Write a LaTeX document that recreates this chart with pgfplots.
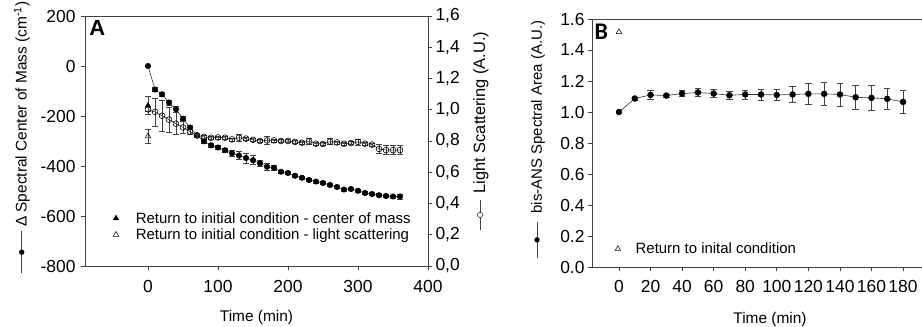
\documentclass[border=0pt]{standalone}
\usepackage{fontspec}
\setmainfont{Liberation Sans}
\newfontfamily\carlito{Carlito}
\usepackage{pgfplots}
\pgfplotsset{compat=1.18}
\usepackage{pgfplotstable}

\pgfplotstableread{
x y e
0 0 0
10 -94 8
20 -113 8
30 -146 10
40 -173 12
50 -211 8
60 -246 8
70 -278 6
80 -301 8
90 -317 8
100 -326 8
110 -337 8
120 -349 12
130 -358 15
140 -368 20
150 -377 18
160 -389 12
170 -403 15
180 -407 10
190 -423 6
200 -428 6
210 -439 6
220 -447 6
230 -456 6
240 -462 6
250 -468 6
260 -476 6
270 -484 6
280 -494 6
290 -492 6
300 -499 6
310 -508 6
320 -512 6
330 -517 6
340 -520 6
350 -522 6
360 -522 10
}\com

\pgfplotstableread{
x y e
0 1.003 0.01
10 0.986 0.09
20 0.962 0.10
30 0.937 0.08
40 0.911 0.07
50 0.887 0.04
60 0.860 0.015
70 0.836 0.01
80 0.826 0.01
90 0.821 0.01
100 0.823 0.01
110 0.821 0.01
120 0.810 0.01
130 0.821 0.02
140 0.815 0.01
150 0.808 0.01
160 0.800 0.01
170 0.804 0.025
180 0.804 0.01
190 0.800 0.01
200 0.800 0.01
210 0.794 0.01
220 0.789 0.01
230 0.798 0.02
240 0.783 0.01
250 0.781 0.01
260 0.796 0.02
270 0.791 0.01
280 0.783 0.01
290 0.787 0.01
300 0.794 0.02
310 0.783 0.01
320 0.777 0.01
330 0.749 0.03
340 0.742 0.03
350 0.742 0.03
360 0.742 0.03
}\ls

\pgfplotstableread{
x y e
0 1.000 0
10 1.087 0.01
20 1.110 0.03
30 1.106 0.01
40 1.119 0.02
50 1.126 0.025
60 1.119 0.025
70 1.108 0.025
80 1.113 0.03
90 1.113 0.035
100 1.110 0.035
110 1.113 0.05
120 1.117 0.07
130 1.117 0.075
140 1.113 0.075
150 1.095 0.08
160 1.091 0.08
170 1.085 0.07
180 1.065 0.075
}\ans

\begin{document}
\begin{tikzpicture}
\path[use as bounding box] (0,0) rectangle (922bp,327bp);
\pgfplotsset{
  every axis/.append style={
    scale only axis,
    font=\fontsize{15.5}{18}\selectfont,
    tick label style={font=\fontsize{17.5}{19}\selectfont},
    /pgf/number format/assume math mode=true,
    tick align=outside,
    major tick length=4bp,
    axis line style={black!75, line width=0.8bp},
    every tick/.style={black!75, line width=0.8bp},
    clip=false,
  },
  eb/.style={error bars/.cd, y dir=both, y explicit,
    error bar style={line width=0.6bp, black!75},
    error mark options={rotate=90, mark size=3.2bp, line width=0.6bp, black!75}},
}
% Panel A, left axis
\begin{axis}[
  at={(85bp,61bp)}, anchor=south west, width=343bp, height=250bp,
  xmin=-90, xmax=400, ymin=-800, ymax=200,
  xtick={0,100,...,400}, ytick={-800,-600,...,200},
  xtick pos=bottom, ytick pos=left,
  xticklabel style={yshift=-7bp},
  yticklabel style={xshift=-2bp},
  xlabel={Time (min)},
  xlabel style={font=\fontsize{15.5}{18}\selectfont, at={(axis description cs:0.5,0)}, anchor=center, yshift=-52bp},
  ylabel={\tikz[baseline=-0.6ex]{\draw[black!75,line width=0.7bp] (0,0)--(42bp,0); \fill (21bp,0) circle (2.7bp);}\hspace{4bp}Δ Spectral Center of Mass (cm\textsuperscript{-1})},
  ylabel style={at={(axis description cs:-0.184,0.514)}, anchor=center},
  legend style={draw=none, fill=none, font=\fontsize{15}{17}\selectfont,
    at={(axis description cs:0.073,0.158)}, anchor=west, row sep=0bp,
    /tikz/every odd column/.append style={column sep=15bp}},
  legend cell align=left,
]
\addplot[black!80, line width=0.6bp, mark=*, mark size=2.7bp, mark options={fill=black, draw=black}, forget plot, eb]
  table[x=x, y=y, y error=e] {\com};
\addplot[only marks, mark=triangle*, mark size=3.2bp, mark options={fill=black, draw=black}, eb]
  coordinates {(0,-158) +- (0,35)};
\addlegendentry{Return to initial condition - center of mass}
\addlegendimage{only marks, mark=triangle, mark size=3.2bp, mark options={draw=black, fill=white, line width=0.5bp}}
\addlegendentry{Return to initial condition - light scattering}
\node[anchor=north west, font=\fontsize{22}{24}\selectfont\bfseries, inner sep=0pt] at (axis description cs:0.012,0.985) {A};
\end{axis}
% Panel A, right axis
\begin{axis}[
  at={(85bp,61bp)}, anchor=south west, width=343bp, height=250bp,
  xmin=-90, xmax=400, ymin=0, ymax=1.6,
  axis x line=none, axis y line*=right,
  ytick={0,0.2,...,1.6},
  yticklabel style={/pgf/number format/.cd, use comma, fixed, fixed zerofill, precision=1},
  ylabel={\tikz[baseline=-0.6ex]{\draw[black!75,line width=0.7bp] (0,0)--(30bp,0); \filldraw[fill=white, draw=black!80, line width=0.6bp] (15bp,0) circle (2.7bp);}\hspace{6bp}Light Scattering (A.U.)},
  ylabel style={font=\fontsize{16.5}{19}\selectfont, at={(axis description cs:1.1545,0.54)}, anchor=center},
]
\addplot[black!80, line width=0.6bp, mark=o, mark size=2.9bp, mark options={fill=white, draw=black, line width=0.6bp}, eb]
  table[x=x, y=y, y error=e] {\ls};
\addplot[only marks, mark=triangle, mark size=3.2bp, mark options={fill=white, draw=black, line width=0.5bp}, eb]
  coordinates {(0,0.83) +- (0,0.045)};
\end{axis}
% Panel B
\begin{axis}[
  at={(592bp,60bp)}, anchor=south west, width=356bp, height=248bp,
  xmin=-17.1, xmax=208.5, ymin=0, ymax=1.6,
  xtick={0,20,...,180}, ytick={0,0.2,...,1.6},
  xtick pos=bottom, ytick pos=left,
  yticklabel style={/pgf/number format/.cd, fixed, fixed zerofill, precision=1},
  xticklabel style={yshift=-6bp},
  xlabel={Time (min)},
  xlabel style={font=\fontsize{15.5}{18}\selectfont, at={(axis description cs:0.5,0)}, anchor=center, yshift=-53bp},
  ylabel={\tikz[baseline=-0.6ex]{\draw[black!75,line width=0.7bp] (0,0)--(36bp,0); \fill (18bp,0) circle (2.7bp);}\hspace{8bp}bis-ANS Spectral Area (A.U.)},
  ylabel style={font=\fontsize{15}{17}\selectfont, at={(axis description cs:-0.152,0.514)}, anchor=center},
  legend style={draw=none, fill=none, font=\fontsize{15}{17}\selectfont,
    at={(axis description cs:0.056,0.073)}, anchor=west,
    /tikz/every odd column/.append style={column sep=13bp}},
  legend cell align=left,
]
\addplot[black!80, line width=0.6bp, mark=*, mark size=2.9bp, mark options={fill=black, draw=black}, forget plot, eb]
  table[x=x, y=y, y error=e] {\ans};
\addplot[only marks, mark=triangle, mark size=3.2bp, mark options={fill=white, draw=black, line width=0.5bp}]
  coordinates {(0,1.516)};
\addlegendentry{Return to inital condition}
\node[anchor=north west, font=\fontsize{24}{26}\selectfont\carlito\bfseries, inner sep=0pt] at (axis description cs:0.007,0.98) {B};
\end{axis}
\end{tikzpicture}
\end{document}
